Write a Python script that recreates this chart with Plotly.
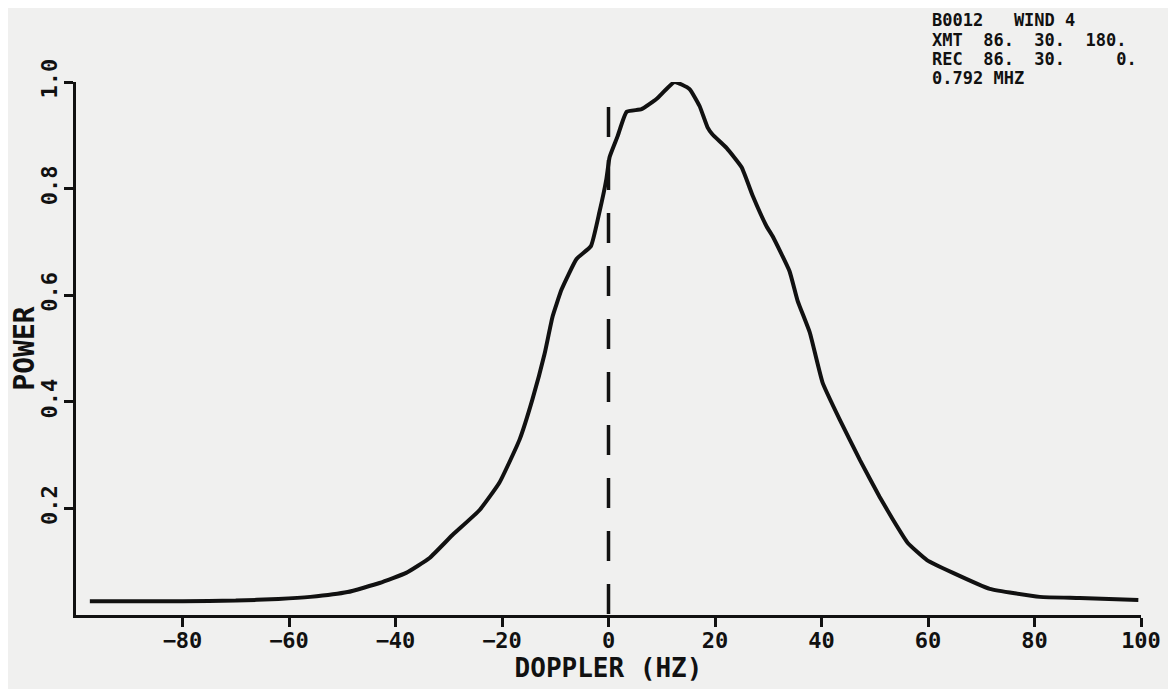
import plotly.graph_objects as go

# Doppler spectrum (Hz) vs normalised power
doppler_hz = [-97.4, -90, -80, -70, -62, -56, -49, -43, -38, -33.6, -29.3, -24.2,
              -20.5, -16.7, -14.3, -12.0, -10.5, -8.8, -6.0, -3.3, -1.7, -0.4,
              0.2, 1.7, 3.4, 6.2, 9.0, 12.4, 15.2, 17.1, 18.6, 19.5, 22.2, 25.0,
              27.1, 29.7, 30.8, 34.0, 35.5, 37.8, 40.2, 43.4, 47.2, 50.9, 53.4,
              56.2, 59.8, 64.7, 71.6, 81.0, 88.5, 99.5]
power = [0.026, 0.026, 0.026, 0.027, 0.030, 0.034, 0.043, 0.060, 0.079, 0.107,
         0.150, 0.197, 0.248, 0.329, 0.404, 0.490, 0.560, 0.611, 0.668, 0.692,
         0.756, 0.818, 0.859, 0.898, 0.944, 0.949, 0.968, 1.000, 0.987, 0.955,
         0.915, 0.902, 0.876, 0.840, 0.786, 0.729, 0.711, 0.645, 0.590, 0.530,
         0.436, 0.367, 0.291, 0.222, 0.179, 0.135, 0.103, 0.079, 0.049, 0.034,
         0.032, 0.028]

zero_line_x = [0, 0]
zero_line_y = [0.953, 0.0]

x_ticks = [-80, -60, -40, -20, 0, 20, 40, 60, 80, 100]
y_ticks = [0.2, 0.4, 0.6, 0.8, 1.0]
y_tick_text = ["0.2", "0.4", "0.6", "0.8", "1.0"]

header_lines = ["B0012   WIND 4",
                "XMT  86.  30.  180.",
                "REC  86.  30.     0.",
                "0.792 MHZ"]

FONT = "DejaVu Sans Mono"
INK = "#111111"
PAPER = "#f0f0ef"

# page body has an 8px margin, so the figure is drawn 8px smaller
W, H = 1168, 681
ML, MR, MT, MB = 68, 35, 74, 74
PW, PH = W - ML - MR, H - MT - MB

fig = go.Figure()
fig.add_trace(go.Scatter(x=zero_line_x, y=zero_line_y, mode="lines",
                         line=dict(color=INK, width=3.5, dash="30px,23px"),
                         showlegend=False, hoverinfo="skip"))
fig.add_trace(go.Scatter(x=doppler_hz, y=power, mode="lines",
                         line=dict(color=INK, width=4, shape="spline", smoothing=0.4),
                         showlegend=False))

for i, t in enumerate(header_lines):
    fig.add_annotation(text=t, xref="paper", yref="paper",
                       x=(930 - 8 - ML) / PW, y=1 + (MT - (20 + 19.5 * i - 8)) / PH,
                       xanchor="left", yanchor="middle", showarrow=False,
                       font=dict(family=FONT, size=17, color=INK, weight="bold"))

fig.update_layout(
    width=W, height=H,
    margin=dict(l=ML, r=MR, t=MT, b=MB, autoexpand=False),
    paper_bgcolor=PAPER, plot_bgcolor=PAPER,
    font=dict(family=FONT, color=INK, weight="bold"),
    xaxis=dict(range=[-100, 100], tickvals=x_ticks, ticks="outside", ticklen=9,
               tickwidth=3, tickcolor=INK, showline=True, linewidth=3,
               linecolor=INK, showgrid=False, zeroline=False, automargin=False,
               ticklabelstandoff=-5,
               tickfont=dict(size=22, family=FONT, weight="bold"),
               title=dict(text="DOPPLER (HZ)", standoff=0,
                          font=dict(size=26, family=FONT, weight="bold"))),
    yaxis=dict(range=[0, 1.0], tickvals=y_ticks, ticktext=y_tick_text,
               ticks="outside", ticklen=9, tickwidth=3, tickcolor=INK,
               tickangle=-90, showline=True, linewidth=3, linecolor=INK,
               showgrid=False, zeroline=False, automargin=False,
               ticklabelstandoff=-2,
               tickfont=dict(size=22, family=FONT, weight="bold"),
               title=dict(text="POWER", standoff=4,
                          font=dict(size=28, family=FONT, weight="bold"))),
)

fig.write_html("out.html")
